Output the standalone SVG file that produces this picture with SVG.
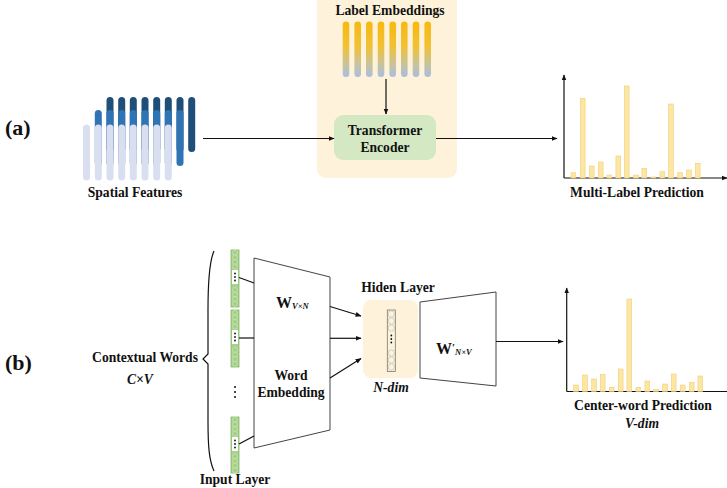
<svg xmlns="http://www.w3.org/2000/svg" width="727" height="488" viewBox="0 0 727 488">
  <defs>
    <style>
      .t { font-family: "Liberation Serif", "Times New Roman", serif; font-weight: bold; font-size: 13.6px; fill: #111; text-anchor: middle; }
      .ti { font-style: italic; }
      .big { font-size: 22px; text-anchor: start; }
      .ln { stroke: #111; stroke-width: 1.2; fill: none; }
      .bar { fill: #fde6a2; stroke: #efcf7c; stroke-width: 0.6; }
      .dark { fill: #1f4e79; }
      .mid { fill: #2f74b5; }
      .light { fill: #d9dff0; }
      .emb { fill: url(#embGrad); }
      .incol { fill: #a9d18e; stroke: #86b466; stroke-width: 0.8; }
      .inc { fill: #a4cf86; stroke: #d8ecc8; stroke-width: 0.5; }
      .hc { fill: #fdf3dc; stroke: #b9b6a8; stroke-width: 0.6; }
      .trap { fill: #fff; stroke: #444; stroke-width: 1; }
    </style>
    <linearGradient id="embGrad" x1="0" y1="0" x2="0" y2="1">
      <stop offset="0" stop-color="#f8b80f"/>
      <stop offset="0.45" stop-color="#f0c136"/>
      <stop offset="0.78" stop-color="#c8c39e"/>
      <stop offset="1" stop-color="#a8bde2"/>
    </linearGradient>
    <marker id="arr" viewBox="0 0 10 10" refX="9" refY="5" markerWidth="6" markerHeight="6" orient="auto" markerUnits="userSpaceOnUse">
      <path d="M0,1 L10,5 L0,9 Z" fill="#111"/>
    </marker>
  </defs>

  <rect width="727" height="488" fill="#fff"/>

  <!-- panel labels -->
  <text class="t big" x="5" y="135">(a)</text>
  <text class="t big" x="5" y="370">(b)</text>

  <!-- (a) spatial features: three staggered rows of rounded bars -->
  <g id="spatial-features">
    <g class="dark">
      <rect x="106.5" y="97" width="7" height="55" rx="3.5"/>
      <rect x="118.2" y="97" width="7" height="55" rx="3.5"/>
      <rect x="129.8" y="97" width="7" height="55" rx="3.5"/>
      <rect x="141.5" y="97" width="7" height="55" rx="3.5"/>
      <rect x="153.2" y="97" width="7" height="55" rx="3.5"/>
      <rect x="164.8" y="97" width="7" height="55" rx="3.5"/>
      <rect x="176.5" y="97" width="7" height="55" rx="3.5"/>
      <rect x="188.2" y="97" width="7" height="55" rx="3.5"/>
    </g>
    <g class="mid">
      <rect x="94.8" y="110" width="7" height="56" rx="3.5"/>
      <rect x="106.5" y="110" width="7" height="56" rx="3.5"/>
      <rect x="118.2" y="110" width="7" height="56" rx="3.5"/>
      <rect x="129.8" y="110" width="7" height="56" rx="3.5"/>
      <rect x="141.5" y="110" width="7" height="56" rx="3.5"/>
      <rect x="153.2" y="110" width="7" height="56" rx="3.5"/>
      <rect x="164.8" y="110" width="7" height="56" rx="3.5"/>
      <rect x="176.5" y="110" width="7" height="56" rx="3.5"/>
    </g>
    <g class="light">
      <rect x="83" y="124.5" width="7" height="56" rx="3.5"/>
      <rect x="94.8" y="124.5" width="7" height="56" rx="3.5"/>
      <rect x="106.5" y="124.5" width="7" height="56" rx="3.5"/>
      <rect x="118.2" y="124.5" width="7" height="56" rx="3.5"/>
      <rect x="129.8" y="124.5" width="7" height="56" rx="3.5"/>
      <rect x="141.5" y="124.5" width="7" height="56" rx="3.5"/>
      <rect x="153.2" y="124.5" width="7" height="56" rx="3.5"/>
      <rect x="164.8" y="124.5" width="7" height="56" rx="3.5"/>
    </g>
    <text class="t" x="135" y="197">Spatial Features</text>
  </g>

  <!-- (a) transformer block with label embeddings -->
  <g id="transformer-panel">
    <rect x="317" y="-8" width="140" height="186" rx="9" fill="#fef3da"/>
    <text class="t" x="390" y="15">Label Embeddings</text>
    <g id="label-embeddings" class="emb">
      <rect x="342.7" y="21.5" width="6.6" height="55.5" rx="3.3"/>
      <rect x="354.4" y="21.5" width="6.6" height="55.5" rx="3.3"/>
      <rect x="366" y="21.5" width="6.6" height="55.5" rx="3.3"/>
      <rect x="377.7" y="21.5" width="6.6" height="55.5" rx="3.3"/>
      <rect x="389.4" y="21.5" width="6.6" height="55.5" rx="3.3"/>
      <rect x="401" y="21.5" width="6.6" height="55.5" rx="3.3"/>
      <rect x="412.7" y="21.5" width="6.6" height="55.5" rx="3.3"/>
      <rect x="424.4" y="21.5" width="6.6" height="55.5" rx="3.3"/>
    </g>
    <g id="transformer-encoder">
      <rect x="334" y="115" width="102" height="45" rx="9" fill="#d4e8c3"/>
      <text class="t" x="385" y="135">Transformer</text>
      <text class="t" x="385" y="152">Encoder</text>
    </g>
  </g>

  <!-- (a) multi-label prediction chart -->
  <g id="multi-label-chart">
    <line class="ln" x1="564" y1="178" x2="564" y2="75" marker-end="url(#arr)"/>
    <line class="ln" x1="564" y1="178" x2="727" y2="178" marker-end="url(#arr)"/>
    <rect class="bar" x="571" y="172.7" width="4.8" height="5.3"/>
    <rect class="bar" x="580.3" y="98.3" width="4.8" height="79.7"/>
    <rect class="bar" x="589.3" y="166" width="4.8" height="12"/>
    <rect class="bar" x="598.3" y="162" width="4.8" height="16"/>
    <rect class="bar" x="606.9" y="175" width="4.8" height="3"/>
    <rect class="bar" x="615.9" y="156" width="4.8" height="22"/>
    <rect class="bar" x="624.3" y="86" width="4.8" height="92"/>
    <rect class="bar" x="633.6" y="175" width="4.8" height="3"/>
    <rect class="bar" x="641.9" y="168.3" width="4.8" height="9.7"/>
    <rect class="bar" x="650.9" y="177" width="4.8" height="1"/>
    <rect class="bar" x="659.9" y="171.7" width="4.8" height="6.3"/>
    <rect class="bar" x="668.6" y="104" width="4.8" height="74"/>
    <rect class="bar" x="677.6" y="172.7" width="4.8" height="5.3"/>
    <rect class="bar" x="686.6" y="170" width="4.8" height="8"/>
    <rect class="bar" x="695.3" y="163.3" width="4.8" height="14.7"/>
    <text class="t" x="637" y="197">Multi-Label Prediction</text>
  </g>

  <!-- (b) context words with brace -->
  <g id="contextual-words">
    <text class="t" x="145" y="362">Contextual Words</text>
    <text class="t ti" x="140" y="384">C×V</text>
    <path class="ln" d="M214,251 C209,262 208,285 208,310 L208,354 L203,359 L208,364 L208,420 C208,446 209,460 214,471"/>
  </g>

  <!-- (b) input layer: one-hot columns -->
  <g id="input-layer">
    <g id="input-col-1">
      <rect class="incol" x="231" y="250" width="8" height="57"/>
      <circle class="inc" cx="235" cy="252.8" r="2.5"/>
      <circle class="inc" cx="235" cy="257.4" r="2.5"/>
      <circle class="inc" cx="235" cy="262" r="2.5"/>
      <circle class="inc" cx="235" cy="266.6" r="2.5"/>
      <rect x="232" y="270" width="6" height="14" fill="#fff"/>
      <circle cx="235" cy="273.5" r="0.9" fill="#111"/>
      <circle cx="235" cy="277" r="0.9" fill="#111"/>
      <circle cx="235" cy="280.5" r="0.9" fill="#111"/>
      <circle class="inc" cx="235" cy="290" r="2.5"/>
      <circle class="inc" cx="235" cy="294.6" r="2.5"/>
      <circle class="inc" cx="235" cy="299.2" r="2.5"/>
      <circle class="inc" cx="235" cy="303.8" r="2.5"/>
    </g>
    <g id="input-col-2">
      <rect class="incol" x="231" y="310" width="8" height="57"/>
      <circle class="inc" cx="235" cy="312.8" r="2.5"/>
      <circle class="inc" cx="235" cy="317.4" r="2.5"/>
      <circle class="inc" cx="235" cy="322" r="2.5"/>
      <circle class="inc" cx="235" cy="326.6" r="2.5"/>
      <rect x="232" y="330" width="6" height="14" fill="#fff"/>
      <circle cx="235" cy="333.5" r="0.9" fill="#111"/>
      <circle cx="235" cy="337" r="0.9" fill="#111"/>
      <circle cx="235" cy="340.5" r="0.9" fill="#111"/>
      <circle class="inc" cx="235" cy="350" r="2.5"/>
      <circle class="inc" cx="235" cy="354.6" r="2.5"/>
      <circle class="inc" cx="235" cy="359.2" r="2.5"/>
      <circle class="inc" cx="235" cy="363.8" r="2.5"/>
    </g>
    <g id="input-ellipsis">
      <circle cx="235" cy="387" r="1" fill="#111"/>
      <circle cx="235" cy="392" r="1" fill="#111"/>
      <circle cx="235" cy="397" r="1" fill="#111"/>
    </g>
    <g id="input-col-3">
      <rect class="incol" x="231" y="417" width="8" height="56"/>
      <circle class="inc" cx="235" cy="419.8" r="2.5"/>
      <circle class="inc" cx="235" cy="424.4" r="2.5"/>
      <circle class="inc" cx="235" cy="429" r="2.5"/>
      <circle class="inc" cx="235" cy="433.6" r="2.5"/>
      <rect x="232" y="437" width="6" height="14" fill="#fff"/>
      <circle cx="235" cy="440.5" r="0.9" fill="#111"/>
      <circle cx="235" cy="444" r="0.9" fill="#111"/>
      <circle cx="235" cy="447.5" r="0.9" fill="#111"/>
      <circle class="inc" cx="235" cy="456.4" r="2.5"/>
      <circle class="inc" cx="235" cy="461" r="2.5"/>
      <circle class="inc" cx="235" cy="465.6" r="2.5"/>
      <circle class="inc" cx="235" cy="470.2" r="2.5"/>
    </g>
    <text class="t" x="235" y="484">Input Layer</text>
  </g>

  <!-- (b) word-embedding projection -->
  <g id="word-embedding">
    <path class="trap" d="M254,258 L330,277 L330,430 L254,448 Z"/>
    <text class="t" x="276" y="308" style="text-anchor:start"><tspan font-size="16">W</tspan><tspan class="ti" font-size="8.5" dy="1">V×N</tspan></text>
    <text class="t" x="291" y="380">Word</text>
    <text class="t" x="291" y="397">Embedding</text>
  </g>

  <!-- (b) hidden layer -->
  <g id="hidden-layer">
    <text class="t" x="398" y="292">Hiden Layer</text>
    <rect x="363" y="300" width="55" height="78" rx="8" fill="#fef3da"/>
    <rect x="387.3" y="310" width="8" height="61.5" fill="#fdf3dc" stroke="#777" stroke-width="0.8"/>
    <circle class="hc" cx="391.3" cy="314" r="3.2"/>
    <circle class="hc" cx="391.3" cy="321" r="3.2"/>
    <circle class="hc" cx="391.3" cy="328" r="3.2"/>
    <circle cx="391.3" cy="335.5" r="0.9" fill="#111"/>
    <circle cx="391.3" cy="339" r="0.9" fill="#111"/>
    <circle cx="391.3" cy="342.5" r="0.9" fill="#111"/>
    <circle class="hc" cx="391.3" cy="353" r="3.2"/>
    <circle class="hc" cx="391.3" cy="360" r="3.2"/>
    <circle class="hc" cx="391.3" cy="367" r="3.2"/>
    <text class="t ti" x="391" y="392">N-dim</text>
  </g>

  <!-- (b) output projection -->
  <g id="output-projection">
    <path class="trap" d="M420,302 L496,292 L496,386 L420,378 Z"/>
    <text class="t" x="436" y="354" style="text-anchor:start"><tspan font-size="16">W</tspan><tspan font-size="11" dy="-3">′</tspan><tspan class="ti" font-size="8.5" dy="4">N×V</tspan></text>
  </g>

  <!-- (b) center-word prediction chart -->
  <g id="center-word-chart">
    <line class="ln" x1="566.7" y1="391.5" x2="566.7" y2="288" marker-end="url(#arr)"/>
    <line class="ln" x1="566.7" y1="391.5" x2="727" y2="391.5"/>
    <rect class="bar" x="573.6" y="385" width="4.8" height="6.5"/>
    <rect class="bar" x="582.6" y="375" width="4.8" height="16.5"/>
    <rect class="bar" x="591.6" y="379" width="4.8" height="12.5"/>
    <rect class="bar" x="600.3" y="374.3" width="4.8" height="17.2"/>
    <rect class="bar" x="609.3" y="387.3" width="4.8" height="4.2"/>
    <rect class="bar" x="618.3" y="369" width="4.8" height="22.5"/>
    <rect class="bar" x="626.9" y="299" width="4.8" height="92.5"/>
    <rect class="bar" x="635.9" y="387.3" width="4.8" height="4.2"/>
    <rect class="bar" x="644.9" y="381" width="4.8" height="10.5"/>
    <rect class="bar" x="653.6" y="389.3" width="4.8" height="2.2"/>
    <rect class="bar" x="662.6" y="384" width="4.8" height="7.5"/>
    <rect class="bar" x="671.3" y="374" width="4.8" height="17.5"/>
    <rect class="bar" x="680.3" y="385" width="4.8" height="6.5"/>
    <rect class="bar" x="689.3" y="382.3" width="4.8" height="9.2"/>
    <rect class="bar" x="697.9" y="376" width="4.8" height="15.5"/>
    <text class="t" x="643" y="410">Center-word Prediction</text>
    <text class="t ti" x="642" y="428">V-dim</text>
  </g>

  <!-- connectors -->
  <g id="connectors">
    <line class="ln" x1="203" y1="138.5" x2="334" y2="138.5" marker-end="url(#arr)"/>
    <line class="ln" x1="386" y1="79" x2="386" y2="114" marker-end="url(#arr)"/>
    <line class="ln" x1="436" y1="138.5" x2="557" y2="138.5" marker-end="url(#arr)"/>
    <line class="ln" x1="239" y1="277.5" x2="254" y2="283"/>
    <line class="ln" x1="239" y1="338" x2="254" y2="338"/>
    <line class="ln" x1="239" y1="444" x2="254" y2="436"/>
    <line class="ln" x1="330" y1="306.5" x2="361" y2="316" marker-end="url(#arr)"/>
    <line class="ln" x1="330" y1="338.3" x2="361" y2="338.3" marker-end="url(#arr)"/>
    <line class="ln" x1="330" y1="378" x2="361" y2="358.5" marker-end="url(#arr)"/>
    <line class="ln" x1="496" y1="341.5" x2="563" y2="341.5" marker-end="url(#arr)"/>
  </g>
</svg>
